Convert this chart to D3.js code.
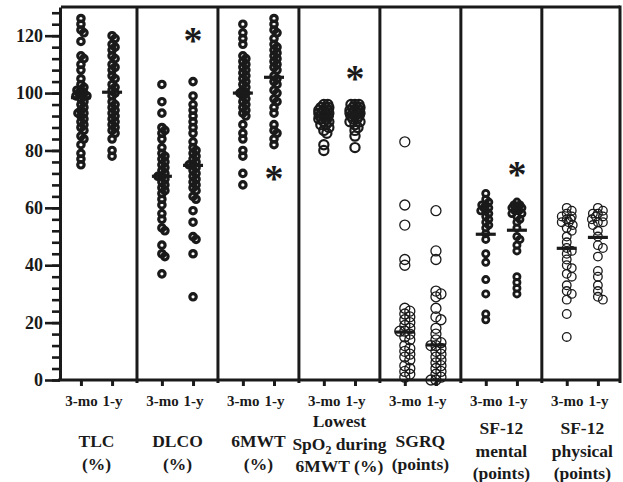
<!DOCTYPE html>
<html>
<head>
<meta charset="utf-8">
<script src="https://cdn.jsdelivr.net/npm/d3@7"></script>
<style>
  body { margin: 0; background: #fff; }
  text { font-family: "Liberation Serif", "Times New Roman", serif; font-weight: bold; fill: #1a1a1a; }
</style>
</head>
<body>
<div id="chart"></div>
<script>
// categories (one pair of columns each) and the two visits
var categories = [
  ["TLC", "(%)"],
  ["DLCO", "(%)"],
  ["6MWT", "(%)"],
  ["Lowest", "SpO{2} during", "6MWT (%)"],
  ["SGRQ", "(points)"],
  ["SF-12", "mental", "(points)"],
  ["SF-12", "physical", "(points)"]
];
var visits = ["3-mo", "1-y"];

// individual values
var tlc3mo = [126, 124, 122, 121, 118, 113, 112, 110, 108, 105, 103, 102, 101, 101, 100, 100, 99, 99, 98, 97, 96, 95, 94, 93, 93, 92, 91, 90, 89, 88, 87, 85, 84, 82, 79, 77, 75];
var tlc1y = [120, 119, 117, 116, 115, 113, 112, 110, 109, 108, 106, 105, 103, 102, 101, 100, 99, 97, 96, 95, 94, 93, 92, 91, 90, 89, 88, 87, 86, 84, 80, 78];
var dlco3mo = [103, 97, 93, 88, 87, 86, 84, 81, 79, 78, 77, 76, 75, 74, 73, 72, 71, 71, 70, 69, 68, 67, 66, 65, 63, 61, 58, 56, 53, 52, 47, 44, 43, 37];
var dlco1y = [104, 99, 96, 94, 92, 90, 88, 86, 83, 81, 80, 79, 78, 77, 76, 75, 75, 74, 73, 72, 71, 70, 69, 68, 67, 66, 64, 63, 59, 55, 50, 49, 44, 29];
var mwt3mo = [124, 121, 119, 117, 113, 112, 111, 110, 109, 108, 107, 106, 105, 104, 103, 102, 101, 100, 100, 99, 98, 97, 96, 95, 94, 93, 92, 89, 86, 84, 80, 78, 72, 68];
var mwt1y = [126, 124, 122, 121, 119, 117, 116, 115, 114, 113, 112, 111, 110, 109, 108, 106, 105, 104, 103, 101, 100, 98, 97, 95, 93, 89, 87, 86, 84, 82];
var spo3mo = [96, 96, 95, 95, 95, 94, 94, 94, 93, 93, 93, 93, 92, 92, 92, 92, 91, 91, 91, 90, 90, 89, 89, 88, 87, 86, 82, 80];
var spo1y = [96, 96, 96, 95, 95, 95, 94, 94, 94, 93, 93, 93, 93, 92, 92, 92, 91, 91, 90, 90, 89, 88, 87, 85, 81];
var sgrq3mo = [83, 61, 54, 42, 40, 25, 24, 23, 22, 21, 20, 19, 18, 17, 17, 16, 15, 14, 12, 11, 10, 9, 8, 7, 5, 4, 3, 2, 1];
var sgrq1y = [59, 45, 42, 31, 30, 29, 25, 22, 21, 18, 16, 14, 13, 12, 12, 11, 10, 9, 8, 7, 6, 5, 4, 3, 2, 1, 0, 0];
var sfm3mo = [65, 63, 62, 61, 61, 60, 60, 59, 59, 58, 57, 56, 55, 54, 53, 51, 49, 44, 41, 35, 30, 23, 21];
var sfm1y = [62, 61, 61, 60, 60, 60, 59, 59, 58, 58, 57, 56, 55, 53, 50, 49, 47, 45, 36, 34, 32, 30];
var sfp3mo = [60, 59, 58, 57, 57, 56, 56, 55, 55, 54, 53, 52, 50, 48, 46, 45, 44, 42, 40, 39, 37, 36, 33, 31, 30, 28, 23, 15];
var sfp1y = [60, 59, 58, 58, 57, 57, 56, 55, 55, 54, 52, 50, 47, 46, 43, 38, 36, 33, 31, 29, 28];

// horizontal bar drawn in each column (group centre)
var barValues = [[98.4, 100.3], [71, 74.8], [100, 105.5], [92, 92.5], [16.7, 12.2], [50.8, 52.2], [45.9, 49.7]];

// columns carrying an asterisk [category, visit] and the height it sits at
var starCols = [[1, 1], [2, 1], [3, 1], [5, 1]];
var starValues = [120.3, 72, 107, 73.7];

var yMajor = [0, 20, 40, 60, 80, 100, 120];

(function() {
var series = [
  [tlc3mo, tlc1y], [dlco3mo, dlco1y], [mwt3mo, mwt1y], [spo3mo, spo1y],
  [sgrq3mo, sgrq1y], [sfm3mo, sfm1y], [sfp3mo, sfp1y]
];

// marker look per category
var markerStyle = [
  {r: 3.2, sw: 3.2, minD: 4,   spread: 6},
  {r: 3.2, sw: 3.2, minD: 4,   spread: 6},
  {r: 3.2, sw: 3.2, minD: 4,   spread: 6},
  {r: 4.6, sw: 2.2, minD: 3.5, spread: 5},
  {r: 5,   sw: 1.3, minD: 5.5, spread: 5},
  {r: 3.1, sw: 2.8, minD: 4,   spread: 5},
  {r: 4.3, sw: 1.3, minD: 5,   spread: 6}
];

// text placement of the category names (first baseline per category)
var labelTop = [447, 447, 447, 427, 447, 434, 434];

var W = 623, H = 482;
var mLeft = 61, mRight = 620, mTop = 7, mBottom = 380;
var ink = "#1a1a1a";

var svg = d3.select("#chart").append("svg")
  .attr("width", W)
  .attr("height", H);

// x is in "column units": pair p sits at p*2.6, visit t adds t
var gap = 2.6;
var x = d3.scaleLinear()
  .domain([-0.64, (categories.length - 1) * gap + 1 + 0.71])
  .range([mLeft, mRight]);
var y = d3.scaleLinear()
  .domain([0, 130])
  .range([mBottom, mTop]);

function colPos(p, t) { return p * gap + t; }

// frame and separators
svg.append("line").attr("x1", mLeft).attr("x2", mRight).attr("y1", mTop).attr("y2", mTop)
  .attr("stroke", ink).attr("stroke-width", 3);
svg.append("line").attr("x1", mRight).attr("x2", mRight).attr("y1", mTop - 1.5).attr("y2", mBottom + 3)
  .attr("stroke", ink).attr("stroke-width", 3);
svg.selectAll("line.sep")
  .data(d3.range(categories.length - 1))
  .enter().append("line")
    .attr("class", "sep")
    .attr("x1", function(p) { return x(p * gap + 1.8); })
    .attr("x2", function(p) { return x(p * gap + 1.8); })
    .attr("y1", mTop)
    .attr("y2", mBottom + 3)
    .attr("stroke", ink)
    .attr("stroke-width", 3);

// y axis: minor ticks every 4, major every 20
var minor = svg.append("g")
  .attr("transform", "translate(" + (mLeft - 1) + ",0)")
  .call(d3.axisLeft(y).tickValues(d3.range(0, 130, 4)).tickSize(8).tickSizeOuter(0).tickFormat(""));
var major = svg.append("g")
  .attr("transform", "translate(" + (mLeft - 1) + ",0)")
  .call(d3.axisLeft(y).tickValues(yMajor).tickSize(15).tickPadding(2).tickSizeOuter(0));
major.select(".domain").remove();
[minor, major].forEach(function(g) {
  g.selectAll("path, line").attr("stroke", ink).attr("stroke-width", 2.6);
});
minor.select(".domain").attr("stroke-width", 3);
major.selectAll("text")
  .style("font-size", "18px")
  .attr("fill", ink);

// x axis with one tick per column
var colTicks = [], colLabels = [];
categories.forEach(function(c, p) {
  visits.forEach(function(v, t) { colTicks.push(colPos(p, t)); colLabels.push(v); });
});
var xg = svg.append("g")
  .attr("transform", "translate(0," + mBottom + ")")
  .call(d3.axisBottom(x).tickValues(colTicks).tickSize(6).tickPadding(9).tickSizeOuter(0)
    .tickFormat(function(d, i) { return colLabels[i]; }));
xg.select(".domain").attr("d", "M" + (mLeft - 3) + ",0H" + mRight);
xg.selectAll("path, line").attr("stroke", ink).attr("stroke-width", 3);
xg.selectAll("text")
  .style("font-size", "15px")
  .attr("fill", ink);

// category names under the axis
var lineGap = 22.5;
categories.forEach(function(lines, p) {
  var t = svg.append("text")
    .attr("text-anchor", "middle")
    .style("font-size", "17.5px");
  lines.forEach(function(s, i) {
    var ln = t.append("tspan")
      .attr("x", x(p * gap + 0.5))
      .attr("y", labelTop[p] + i * lineGap);
    var m = s.match(/^(.*)\{(.*)\}(.*)$/);
    if (m) {
      ln.text(m[1]);
      t.append("tspan").attr("dy", 4).style("font-size", "12px").text(m[2]);
      t.append("tspan").attr("dy", -4).text(m[3]);
    } else {
      ln.text(s);
    }
  });
});

// simple swarm: push a point sideways until it clears the ones already placed
function swarm(vals, st) {
  var placed = [];
  return vals.map(function(v) {
    var yy = y(v), best = 0, bestGap = -1;
    for (var k = 0; k <= st.spread * 2; k++) {
      var dx = k === 0 ? 0 : (k % 2 ? 1 : -1) * Math.ceil(k / 2);
      var near = d3.min(placed, function(q) { return Math.hypot(q[0] - dx, q[1] - yy); });
      if (near === undefined) near = Infinity;
      if (near >= st.minD) { best = dx; bestGap = near; break; }
      if (near > bestGap) { bestGap = near; best = dx; }
    }
    placed.push([best, yy]);
    return best;
  });
}

series.forEach(function(pair, p) {
  var st = markerStyle[p];
  pair.forEach(function(vals, t) {
    var cx = x(colPos(p, t));
    var offs = swarm(vals, st);
    svg.append("g").selectAll("circle")
      .data(vals)
      .enter().append("circle")
        .attr("cx", function(d, i) { return cx + offs[i]; })
        .attr("cy", function(d) { return y(d); })
        .attr("r", st.r)
        .attr("fill", "none")
        .attr("stroke", ink)
        .attr("stroke-width", st.sw);
    svg.append("line")
      .attr("x1", cx - 10).attr("x2", cx + 10)
      .attr("y1", y(barValues[p][t])).attr("y2", y(barValues[p][t]))
      .attr("stroke", ink)
      .attr("stroke-width", 3.2);
  });
});

// asterisks
svg.selectAll("text.star")
  .data(starCols)
  .enter().append("text")
    .attr("class", "star")
    .attr("text-anchor", "middle")
    .attr("x", function(d) { return x(colPos(d[0], d[1])); })
    .attr("y", function(d, i) { return y(starValues[i]) + 18; })
    .style("font-size", "38px")
    .text("*");
})();
</script>
</body>
</html>
